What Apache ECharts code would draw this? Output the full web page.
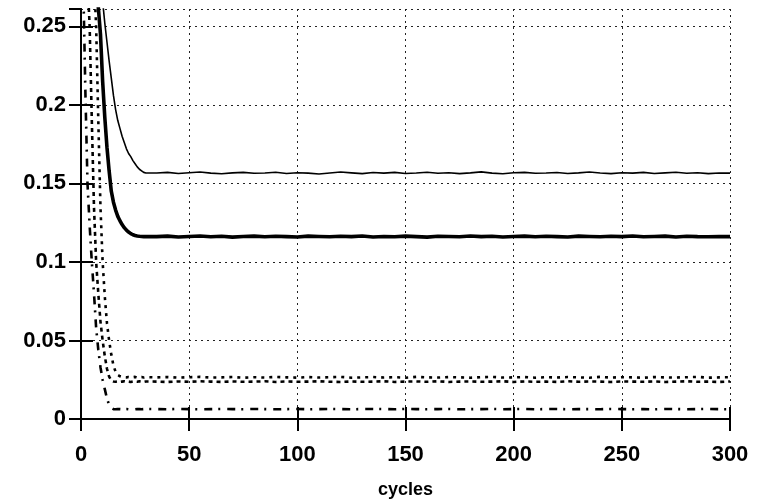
<!DOCTYPE html>
<html>
<head>
<meta charset="utf-8">
<script src="https://cdn.jsdelivr.net/npm/echarts@6/dist/echarts.min.js"></script>
<style>
  html, body { margin: 0; padding: 0; background: #fff; }
  #chart { width: 764px; height: 504px; }
</style>
</head>
<body>
<div id="chart"></div>
<script>
// cycles: every cycle up to 30, then every 5
var cycles = [0,1,2,3,4,5,6,7,8,9,10,11,12,13,14,15,16,17,18,19,20,21,22,23,24,25,26,27,28,29,30,
  35,40,45,50,55,60,65,70,75,80,85,90,95,100,105,110,115,120,125,130,135,140,145,150,155,160,165,
  170,175,180,185,190,195,200,205,210,215,220,225,230,235,240,245,250,255,260,265,270,275,280,285,290,295,300];

var thinSolid = [0.60,0.55,0.50,0.46,0.42,0.38,0.35,0.32,0.30,0.282,0.266,0.252,0.240,0.228,0.217,0.206,
  0.197,0.190,0.185,0.180,0.176,0.172,0.169,0.167,0.1645,0.1625,0.1605,0.159,0.158,0.157,0.1566,
  0.1566,0.1570,0.1563,0.1568,0.1572,0.1565,0.1561,0.1567,0.1570,
  0.1564,0.1566,0.1571,0.1563,0.1568,0.1565,0.1560,0.1566,0.1572,
  0.1567,0.1562,0.1569,0.1565,0.1570,0.1563,0.1566,0.1571,0.1564,
  0.1568,0.1562,0.1567,0.1573,0.1565,0.1561,0.1568,0.1570,0.1564,
  0.1566,0.1569,0.1563,0.1567,0.1572,0.1566,0.1562,0.1568,0.1565,
  0.1570,0.1563,0.1567,0.1571,0.1564,0.1568,0.1562,0.1566,0.1565];

var thickSolid = [0.60,0.52,0.46,0.41,0.37,0.33,0.30,0.28,0.262,0.245,0.215,0.192,0.173,0.158,0.145,0.138,
  0.133,0.129,0.1262,0.1238,0.1218,0.1202,0.1190,0.1180,0.1173,0.1168,0.1165,0.1163,0.1162,0.1161,0.1162,
  0.1161,0.1164,0.1159,0.1162,0.1165,0.1160,0.1163,0.1158,0.1162,
  0.1164,0.1160,0.1163,0.1161,0.1159,0.1164,0.1162,0.1160,0.1163,
  0.1161,0.1165,0.1159,0.1162,0.1160,0.1164,0.1161,0.1158,0.1163,
  0.1162,0.1160,0.1165,0.1161,0.1163,0.1159,0.1162,0.1164,0.1160,
  0.1163,0.1161,0.1159,0.1164,0.1162,0.1160,0.1163,0.1161,0.1165,
  0.1160,0.1162,0.1164,0.1159,0.1163,0.1161,0.1160,0.1162,0.1161];

var dotted = [0.50,0.46,0.42,0.38,0.35,0.31,0.28,0.25,0.19,0.135,0.10,0.078,0.061,0.050,0.041,0.034,
  0.030,0.028,0.0272,0.0268,0.0266,0.0265,0.0267,0.0264,0.0266,0.0268,0.0263,0.0265,0.0267,0.0264,0.0266,
  0.0265,0.0267,0.0263,0.0266,0.0268,0.0264,0.0265,0.0267,0.0263,
  0.0266,0.0264,0.0268,0.0265,0.0263,0.0267,0.0264,0.0266,0.0268,
  0.0263,0.0265,0.0267,0.0264,0.0266,0.0263,0.0268,0.0265,0.0264,
  0.0267,0.0265,0.0263,0.0266,0.0268,0.0264,0.0265,0.0267,0.0263,
  0.0266,0.0264,0.0267,0.0265,0.0263,0.0268,0.0264,0.0266,0.0265,
  0.0263,0.0267,0.0265,0.0264,0.0266,0.0268,0.0263,0.0265,0.0266];

var dashed = [0.45,0.38,0.32,0.28,0.25,0.19,0.135,0.10,0.080,0.062,0.050,0.040,0.032,0.027,0.0245,0.0239,
  0.0237,0.0239,0.0236,0.0238,0.0240,0.0237,0.0238,0.0236,0.0239,0.0238,0.0237,0.0240,0.0238,0.0236,0.0239,
  0.0238,0.0236,0.0239,0.0237,0.0240,0.0238,0.0236,0.0239,0.0237,
  0.0238,0.0240,0.0236,0.0239,0.0237,0.0238,0.0240,0.0237,0.0236,
  0.0239,0.0237,0.0238,0.0240,0.0236,0.0238,0.0239,0.0237,0.0240,
  0.0236,0.0238,0.0239,0.0237,0.0238,0.0240,0.0236,0.0239,0.0237,
  0.0238,0.0236,0.0240,0.0237,0.0239,0.0238,0.0236,0.0239,0.0238,
  0.0237,0.0239,0.0236,0.0238,0.0240,0.0237,0.0238,0.0236,0.0239];

var dashDot = [0.40,0.28,0.21,0.15,0.123,0.100,0.080,0.058,0.044,0.033,0.025,0.019,0.013,0.009,0.007,0.0063,
  0.0062,0.0064,0.0063,0.0062,0.0063,0.0064,0.0062,0.0063,0.0063,0.0062,0.0064,0.0063,0.0062,0.0063,0.0064,
  0.0063,0.0062,0.0064,0.0063,0.0062,0.0063,0.0064,0.0063,0.0062,
  0.0064,0.0063,0.0062,0.0063,0.0064,0.0062,0.0063,0.0064,0.0063,
  0.0062,0.0063,0.0064,0.0063,0.0062,0.0064,0.0063,0.0062,0.0063,
  0.0064,0.0062,0.0063,0.0063,0.0064,0.0062,0.0063,0.0064,0.0062,
  0.0063,0.0064,0.0062,0.0063,0.0063,0.0062,0.0064,0.0063,0.0062,
  0.0063,0.0062,0.0064,0.0063,0.0062,0.0063,0.0064,0.0063,0.0062];

var xTicks = { min: 0, max: 300, step: 50 };
var yTicks = { min: 0, max: 0.261, step: 0.05 };

function pairs(vals) {
  return cycles.map(function (c, i) { return [c, vals[i]]; });
}

var font = '"Liberation Sans", Arial, sans-serif';
var labelStyle = { color: '#000', fontSize: 22, fontWeight: 'bold', fontFamily: font };
var frame = { show: true, lineStyle: { color: '#000', width: 2 } };
var ticksIn = { show: true, inside: true, length: 12, lineStyle: { color: '#000', width: 2 } };
var gridLine = { show: true, lineStyle: { color: '#222', width: 1, type: [2, 4] } };

var myChart = echarts.init(document.getElementById('chart'));

var option = {
  animation: false,
  backgroundColor: '#fff',
  grid: { left: 81, right: 34, top: 9, bottom: 77, show: false },
  xAxis: [
    {
      type: 'value', position: 'bottom',
      min: xTicks.min, max: xTicks.max, interval: xTicks.step,
      name: 'cycles', nameLocation: 'middle', nameGap: 62,
      nameTextStyle: { color: '#000', fontSize: 18, fontWeight: 'bold', fontFamily: font },
      axisLine: frame, axisTick: ticksIn,
      axisLabel: Object.assign({ margin: 25 }, labelStyle),
      splitLine: gridLine
    },
    {
      type: 'value', position: 'top',
      min: xTicks.min, max: xTicks.max, interval: xTicks.step,
      axisLine: frame, axisTick: ticksIn,
      axisLabel: { show: false }, splitLine: { show: false }
    }
  ],
  yAxis: [
    {
      type: 'value', position: 'left',
      min: yTicks.min, max: yTicks.max, interval: yTicks.step,
      axisLine: frame, axisTick: ticksIn,
      axisLabel: Object.assign({
        margin: 15, showMaxLabel: false,
        formatter: function (v) { return String(+v.toFixed(2)); }
      }, labelStyle),
      splitLine: gridLine
    },
    {
      type: 'value', position: 'right',
      min: yTicks.min, max: yTicks.max, interval: yTicks.step,
      axisLine: frame, axisTick: ticksIn,
      axisLabel: { show: false }, splitLine: { show: false }
    }
  ],
  series: [
    { name: 'thin', type: 'line', symbol: 'none', clip: true, data: pairs(thinSolid),
      lineStyle: { color: '#000', width: 1.6 } },
    { name: 'thick', type: 'line', symbol: 'none', clip: true, data: pairs(thickSolid),
      lineStyle: { color: '#000', width: 3.6 } },
    { name: 'dotted', type: 'line', symbol: 'none', clip: true, data: pairs(dotted),
      lineStyle: { color: '#000', width: 2.6, type: [3, 5] } },
    { name: 'dashed', type: 'line', symbol: 'none', clip: true, data: pairs(dashed),
      lineStyle: { color: '#000', width: 2.6, type: [4, 4] } },
    { name: 'dashdot', type: 'line', symbol: 'none', clip: true, data: pairs(dashDot),
      lineStyle: { color: '#000', width: 2.6, type: [8, 6, 2, 7] } }
  ]
};

myChart.setOption(option);
</script>
</body>
</html>
